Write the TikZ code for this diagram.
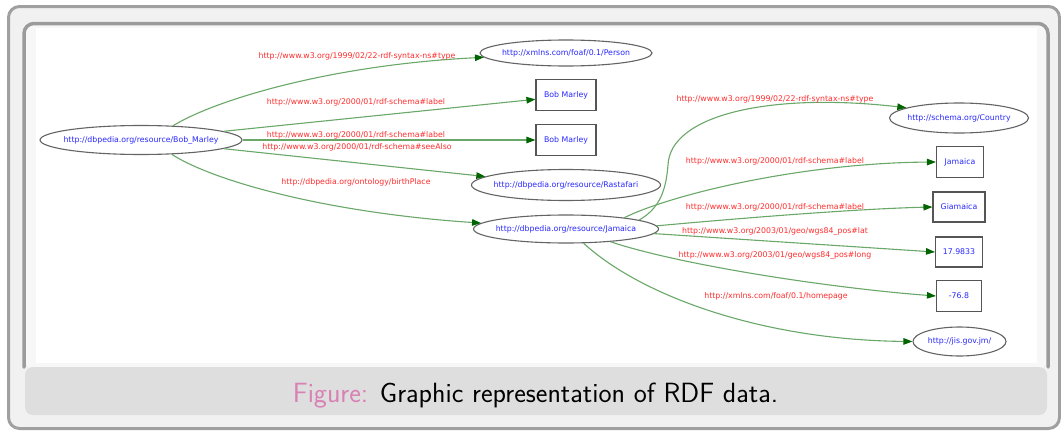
\documentclass[tikz,border=0pt]{standalone}
\usepackage{fontspec}
\newfontfamily\dv{DejaVu Sans}
\usetikzlibrary{shapes.geometric,arrows.meta}
\definecolor{edgegreen}{RGB}{105,168,105}
\definecolor{tipgreen}{RGB}{0,100,0}
\definecolor{lblred}{RGB}{255,45,45}
\definecolor{txtblue}{RGB}{40,40,255}
\definecolor{nodegray}{RGB}{100,100,100}
\definecolor{outerfill}{RGB}{241,241,241}
\definecolor{outerline}{RGB}{160,160,160}
\definecolor{innerband}{RGB}{247,247,247}
\definecolor{innerline}{RGB}{155,155,155}
\definecolor{capfill}{RGB}{222,222,222}
\definecolor{figpink}{RGB}{217,128,180}
\newcommand\zw[1]{\makebox[0pt][c]{#1}}
\tikzset{
  res/.style={ellipse, draw=nodegray, line width=1.1pt, fill=white, inner sep=0pt,
    text=txtblue, font=\dv\fontsize{7.8}{9}\selectfont},
  lit/.style={rectangle, draw=nodegray!85!black, line width=1.1pt, fill=white, inner sep=0pt,
    text=txtblue, font=\dv\fontsize{7.8}{9}\selectfont},
  lbl/.style={text=lblred, inner sep=0pt, font=\dv\fontsize{7.8}{9}\selectfont},
  edge/.style={draw=edgegreen, line width=1.1pt, -{Triangle[length=9pt,width=6.5pt,color=tipgreen]}},
}
\begin{document}
\begin{tikzpicture}[x=1pt,y=-1pt]
\useasboundingbox (0,0) rectangle (1061,431);
\fill[white] (0,0) rectangle (1061,431);
% frames
\draw[fill=outerfill, draw=outerline, line width=3pt, rounded corners=11pt] (8.5,6.5) rectangle (1059.5,428.5);
\fill[innerband, rounded corners=10pt] (24,23) rectangle (1048,369);
\draw[innerline, line width=3.5pt, line cap=round, rounded corners=10pt] (24,367) -- (24,23.5) -- (1048,23.5) -- (1048,367);
\fill[white] (36,28) rectangle (1037,363);
\fill[capfill, rounded corners=8pt] (25,367) rectangle (1047,415);
\node[anchor=base, inner sep=0pt, font=\sffamily\fontsize{27.8}{32}\selectfont] (cap) at (535.5,402.5) {\textcolor{figpink}{Figure:} Graphic representation of RDF data.};

% nodes
\node[res, minimum width=202pt, minimum height=29pt] (bm) at (141,140) {\zw{http://dbpedia.org/resource/Bob\_Marley}};
\node[res, minimum width=172pt, minimum height=26pt] (person) at (566,53) {\zw{http://xmlns.com/foaf/0.1/Person}};
\node[lit, minimum width=60pt, minimum height=31pt] (b1) at (566,95) {Bob Marley};
\node[lit, minimum width=60pt, minimum height=31pt] (b2) at (566,140) {Bob Marley};
\node[res, minimum width=189pt, minimum height=31pt] (ras) at (566,185) {\zw{http://dbpedia.org/resource/Rastafari}};
\node[res, minimum width=185pt, minimum height=28pt] (jam) at (566,229) {\zw{http://dbpedia.org/resource/Jamaica}};
\node[res, minimum width=139pt, minimum height=30pt] (ctry) at (959,118) {\zw{http://schema.org/Country}};
\node[lit, minimum width=47pt, minimum height=31pt] (jbox) at (960,162) {Jamaica};
\node[lit, minimum width=52pt, minimum height=30pt] (gbox) at (959,207) {Giamaica};
\node[lit, minimum width=47pt, minimum height=30pt] (lat) at (959,252) {17.9833};
\node[lit, minimum width=45pt, minimum height=31pt] (long) at (959,296) {-76.8};
\node[res, minimum width=93pt, minimum height=29pt] (jis) at (959.5,341.5) {\zw{http://jis.gov.jm/}};

% edges
\draw[edge] (bm.24) .. controls (215,100) and (330,65) .. (person.183);
\draw[edge] (bm.6) -- (b1.188);
\draw[edge] (bm.east) -- (b2.west);
\draw[edge] (bm.-6) -- (ras.174);
\draw[edge] (bm.-25) .. controls (215,182) and (330,213) .. (jam.176);
\draw[edge] (jam.7) .. controls (660,208) and (666,190) .. (668,165) .. controls (670,115) and (770,92) .. (ctry.169);
\draw[edge] (jam.11) .. controls (670,195) and (800,163) .. (jbox.west);
\draw[edge] (jam.2) .. controls (720,220) and (850,209) .. (gbox.west);
\draw[edge] (jam.-3) -- (lat.west);
\draw[edge] (jam.-16) .. controls (680,265) and (830,288) .. (long.west);
\draw[edge] (jam.-39) .. controls (640,295) and (760,340) .. (jis.west);

% labels
\node[lbl] (l1) at (357,56) {http://www.w3.org/1999/02/22-rdf-syntax-ns\#type};
\node[lbl] (l2) at (356,102) {http://www.w3.org/2000/01/rdf-schema\#label};
\node[lbl] (l3) at (356,135) {http://www.w3.org/2000/01/rdf-schema\#label};
\node[lbl] (l4) at (357,147) {http://www.w3.org/2000/01/rdf-schema\#seeAlso};
\node[lbl] (l5) at (356,182) {http://dbpedia.org/ontology/birthPlace};
\node[lbl] (l6) at (775,99) {http://www.w3.org/1999/02/22-rdf-syntax-ns\#type};
\node[lbl] (l7) at (775,161) {http://www.w3.org/2000/01/rdf-schema\#label};
\node[lbl] (l8) at (775,207) {http://www.w3.org/2000/01/rdf-schema\#label};
\node[lbl] (l9) at (775,231) {http://www.w3.org/2003/01/geo/wgs84\_pos\#lat};
\node[lbl] (l10) at (775,255) {http://www.w3.org/2003/01/geo/wgs84\_pos\#long};
\node[lbl] (l11) at (776,296) {http://xmlns.com/foaf/0.1/homepage};
\end{tikzpicture}
\end{document}
